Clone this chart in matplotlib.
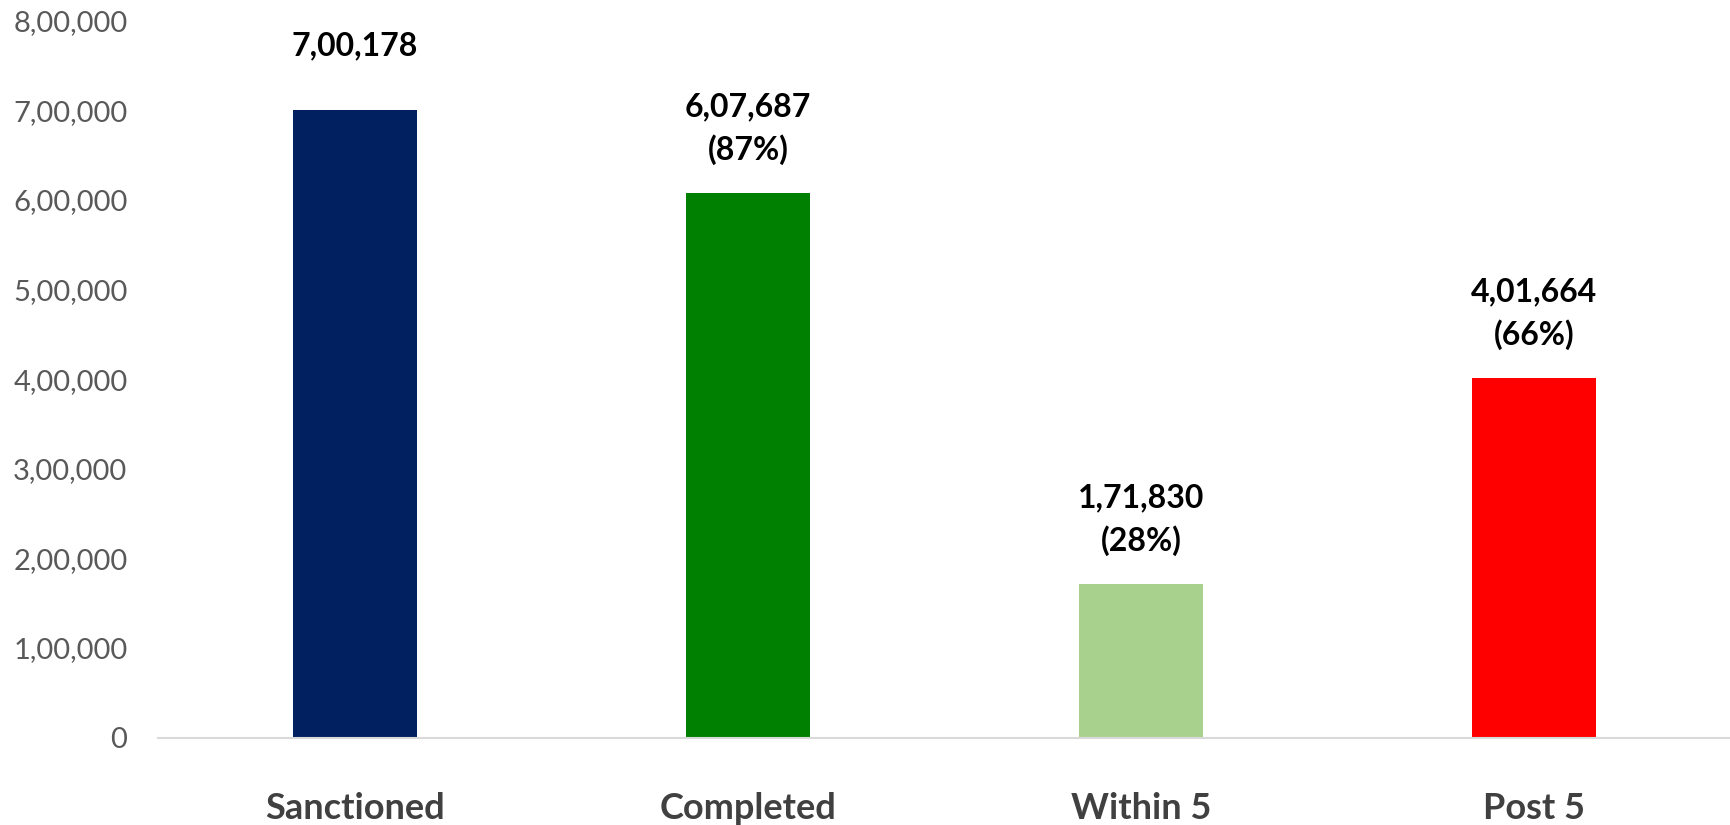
import matplotlib
matplotlib.use("Agg")
import matplotlib.pyplot as plt
from matplotlib.ticker import FuncFormatter

# datos del gráfico
categorias = ["Sanctioned", "Completed", "Within 5", "Post 5"]
valores = [700178, 607687, 171830, 401664]
porcentajes = [None, "87%", "28%", "66%"]
colores = ["#002060", "#008000", "#A9D18E", "#FF0000"]
y_ticks = [0, 100000, 200000, 300000, 400000, 500000, 600000, 700000, 800000]

plt.rcParams["font.family"] = ["Lato", "DejaVu Sans"]


def formato_indio(n):
    """Formato con comas al estilo indio (lakhs)."""
    s = str(int(round(n)))
    if len(s) <= 3:
        return s
    ult = s[-3:]
    resto = s[:-3]
    grupos = []
    while len(resto) > 2:
        grupos.insert(0, resto[-2:])
        resto = resto[:-2]
    if resto:
        grupos.insert(0, resto)
    return ",".join(grupos) + "," + ult


fig = plt.figure(figsize=(17.31, 8.25), dpi=100)
ax = fig.add_axes([0.0913, 0.106, 0.9087, 0.869])

x = range(len(categorias))
ax.bar(x, valores, width=0.315, color=colores, zorder=2)

for xi, v, p in zip(x, valores, porcentajes):
    texto = formato_indio(v) if p is None else f"{formato_indio(v)}\n({p})"
    ax.annotate(texto, (xi, v), xytext=(0, 46), textcoords="offset points",
                ha="center", va="center", fontsize=23, fontweight="bold",
                color="black", linespacing=1.5)

ax.set_xlim(-0.5, 3.5)
ax.set_ylim(0, 800000)
ax.set_yticks(y_ticks)
ax.yaxis.set_major_formatter(FuncFormatter(lambda v, pos: formato_indio(v)))
ax.set_xticks(list(x))
ax.set_xticklabels(categorias, fontsize=26, fontweight="bold", color="#404040")
ax.tick_params(axis="y", length=0, pad=22, labelsize=21, labelcolor="#595959")
ax.tick_params(axis="x", length=0, pad=39)

for lado in ["top", "right", "left"]:
    ax.spines[lado].set_visible(False)
ax.spines["bottom"].set_color("#D9D9D9")
ax.spines["bottom"].set_linewidth(1.5)

fig.savefig("out.png", dpi=100)
